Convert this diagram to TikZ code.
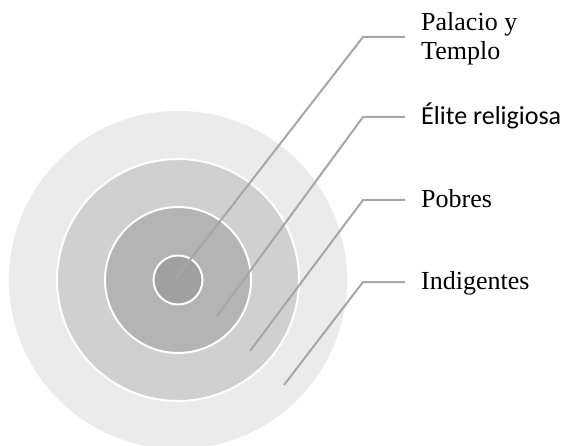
\documentclass[tikz,border=0pt]{standalone}
\usepackage{fontspec}
\setmainfont{Liberation Serif}
\newfontfamily\calib{Carlito}
\definecolor{ringA}{HTML}{EBEBEB}
\definecolor{ringB}{HTML}{D0D0D0}
\definecolor{ringC}{HTML}{B4B4B4}
\definecolor{ringD}{HTML}{A0A0A0}
\definecolor{lead}{HTML}{A6A6A6}
\tikzset{
  ring/.style={circle, inner sep=0pt, outer sep=0pt, draw=white, line width=2pt},
  leader/.style={draw=lead, line width=2pt},
  label/.style={anchor=base west, inner sep=0pt, font=\fontsize{26}{29}\selectfont, align=left}
}
\begin{document}
\begin{tikzpicture}[x=1pt,y=-1pt]
\clip (0,0) rectangle (567,446);
\coordinate (c) at (178,280);
\node[ring, fill=ringA, draw=none, minimum size=338pt] (outer) at (c) {};
\node[ring, fill=ringB, minimum size=242pt] (second) at (c) {};
\node[ring, fill=ringC, minimum size=146pt] (third) at (c) {};
\node[ring, fill=ringD, minimum size=49pt] (inner) at (c) {};

\coordinate (s1) at (176,278);
\coordinate (s2) at (217,316);
\coordinate (s3) at (250,351);
\coordinate (s4) at (284,385);
\coordinate (k1) at (363,37);
\coordinate (k2) at (363,117);
\coordinate (k3) at (363,200);
\coordinate (k4) at (363,282);
\coordinate (h1) at (405,37);
\coordinate (h2) at (405,117);
\coordinate (h3) at (405,200);
\coordinate (h4) at (405,282);

\draw[leader] (s1) -- (k1) -- (h1);
\draw[leader] (s2) -- (k2) -- (h2);
\draw[leader] (s3) -- (k3) -- (h3);
\draw[leader] (s4) -- (k4) -- (h4);

\node[label] (t1) at (421,60) {Palacio y\\Templo};
\node[label, font=\fontsize{26}{29}\selectfont\calib] (t2) at (421,125) {Élite religiosa};
\node[label] (t3) at (421,208) {Pobres};
\node[label] (t4) at (421,289) {Indigentes};
\end{tikzpicture}
\end{document}
